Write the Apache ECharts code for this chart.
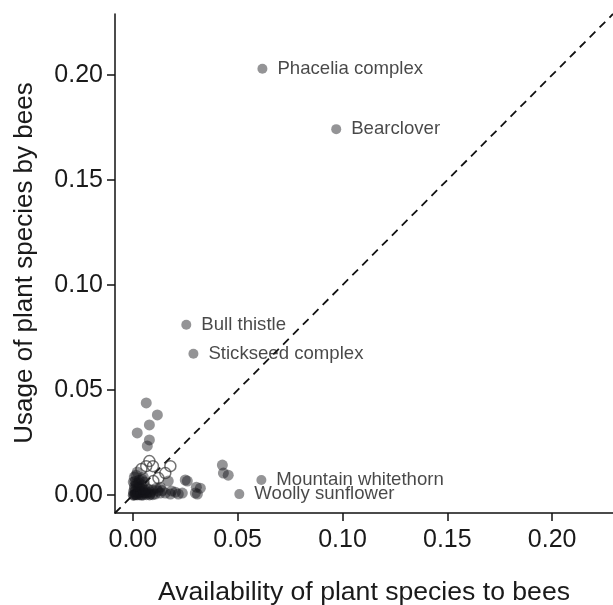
<!DOCTYPE html>
<html>
<head>
<meta charset="utf-8">
<script src="https://cdn.jsdelivr.net/npm/echarts@6/dist/echarts.min.js"></script>
<style>
  html, body { margin: 0; padding: 0; background: #fff; }
  #chart { width: 613px; height: 605px; }
</style>
</head>
<body>
<div id="chart"></div>
<script>
// labelled plant species
const labelNames = ["Phacelia complex", "Bearclover", "Bull thistle", "Stickseed complex", "Mountain whitethorn", "Woolly sunflower"];
const labelX = [0.0618, 0.0970, 0.0255, 0.0289, 0.0613, 0.0508];
const labelY = [0.2029, 0.1742, 0.0811, 0.0673, 0.0072, 0.0005];

// other species (filled)
const otherX = [0.0064, 0.0117, 0.0079, 0.0021, 0.0079, 0.0069, 0.0427, 0.0432, 0.0455, 0.0250, 0.0322, 0.0308,
  0.0260, 0.0303, 0.0298, 0.0236, 0.0002, 0.0012, 0.0021, 0.0036, 0.0007, 0.0026, 0.0045, 0.0017, 0.0031,
  0.0007, 0.0050, 0.0021, 0.0060, 0.0083, 0.0107, 0.0131, 0.0155, 0.0179, 0.0203, 0.0217, 0.0074, 0.0093,
  0.0112, 0.0055, 0.0131, 0.0169, 0.0002, 0.0041,
  0.0005, 0.0010, 0.0015, 0.0020, 0.0030, 0.0040, 0.0050, 0.0065, 0.0080, 0.0095, 0.0003, 0.0012, 0.0025,
  0.0038, 0.0052, 0.0068, 0.0085, 0.0008, 0.0018, 0.0033, 0.0046, 0.0060, 0.0010, 0.0028, 0.0044, 0.0015,
  0.0120, 0.0140, 0.0185];
const otherY = [0.0439, 0.0382, 0.0334, 0.0296, 0.0263, 0.0234, 0.0143, 0.0105, 0.0095, 0.0072, 0.0033, 0.0005,
  0.0067, 0.0038, 0.0010, 0.0010, 0.0000, 0.0005, 0.0014, 0.0019, 0.0029, 0.0038, 0.0048, 0.0057, 0.0072,
  0.0086, 0.0086, 0.0110, 0.0010, 0.0005, 0.0005, 0.0010, 0.0010, 0.0005, 0.0014, 0.0005, 0.0029, 0.0024,
  0.0033, 0.0062, 0.0038, 0.0067, 0.0062, 0.0000,
  0.0001, 0.0002, 0.0003, 0.0001, 0.0002, 0.0003, 0.0001, 0.0002, 0.0001, 0.0002, 0.0015, 0.0018, 0.0012,
  0.0016, 0.0014, 0.0012, 0.0015, 0.0042, 0.0045, 0.0040, 0.0030, 0.0025, 0.0065, 0.0060, 0.0075, 0.0095,
  0.0020, 0.0022, 0.0020];

// open circles
const openX = [0.0079, 0.0064, 0.0041, 0.0179, 0.0155, 0.0122, 0.0098, 0.0096];
const openY = [0.0162, 0.0138, 0.0124, 0.0138, 0.0105, 0.0081, 0.0067, 0.0138];

const tickValues = [0, 0.05, 0.10, 0.15, 0.20];
const axisMin = -0.0085;
const axisMax = 0.229;

const zip = (xs, ys) => xs.map((x, i) => [x, ys[i]]);
const font = "Liberation Sans, Arial, sans-serif";

function makeAxis(labelMargin) {
  return {
    type: "value",
    min: axisMin,
    max: axisMax,
    splitLine: { show: false },
    axisLine: { show: true, onZero: false, lineStyle: { color: "#111", width: 1.5 } },
    axisTick: { show: true, customValues: tickValues, length: 8, lineStyle: { color: "#111", width: 1.5 } },
    axisLabel: {
      show: true,
      customValues: tickValues,
      formatter: (v) => v.toFixed(2),
      color: "#1a1a1a",
      fontSize: 25,
      fontFamily: font,
      margin: labelMargin
    }
  };
}

const chart = echarts.init(document.getElementById("chart"));
const xAxis = makeAxis(15);
xAxis.name = "Availability of plant species to bees";
xAxis.nameLocation = "middle";
xAxis.nameGap = 66;
xAxis.nameTextStyle = { fontSize: 26.6, color: "#1a1a1a", fontFamily: font };
const yAxis = makeAxis(12);

chart.setOption({
  animation: false,
  backgroundColor: "#fff",
  grid: { left: 115, top: 14, right: 0, bottom: 92, containLabel: false, outerBoundsMode: "none" },
  xAxis,
  yAxis,
  graphic: [
    {
      type: "text",
      x: 12,
      y: 263,
      rotation: Math.PI / 2,
      style: {
        text: "Usage of plant species by bees",
        fontSize: 26,
        fontFamily: font,
        fill: "#1a1a1a",
        align: "center",
        verticalAlign: "top"
      }
    }
  ],
  series: [
    {
      type: "line",
      data: [[axisMin, axisMin], [axisMax, axisMax]],
      symbol: "none",
      z: 1,
      lineStyle: { color: "#111", width: 1.8, type: [8, 6] }
    },
    {
      type: "scatter",
      data: zip(otherX, otherY),
      symbolSize: 11,
      z: 2,
      itemStyle: { color: "rgba(20,20,25,0.57)" }
    },
    {
      type: "scatter",
      data: zip(openX, openY),
      symbolSize: 11,
      z: 3,
      itemStyle: { color: "rgba(0,0,0,0)", borderColor: "rgba(50,50,50,0.85)", borderWidth: 1.5 }
    },
    {
      type: "scatter",
      data: labelNames.map((n, i) => ({ name: n, value: [labelX[i], labelY[i]] })),
      symbolSize: 10,
      z: 4,
      itemStyle: { color: "rgba(20,20,25,0.57)" },
      label: {
        show: true,
        position: "right",
        distance: 10,
        formatter: "{b}",
        color: "#1a1a1a",
        fontSize: 18.6,
        fontFamily: font
      }
    }
  ]
});
</script>
</body>
</html>
